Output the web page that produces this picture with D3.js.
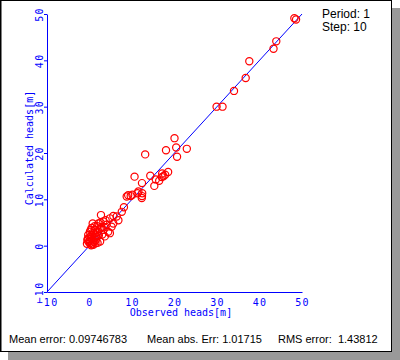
<!DOCTYPE html>
<html><head><meta charset="utf-8">
<script src="https://cdn.jsdelivr.net/npm/d3@7"></script>
<style>body{margin:0;background:#fff;} svg{display:block;}</style>
</head><body>
<svg id="c" width="400" height="360"></svg>
<script>
const observed = [48.2,48.6,43.95,43.3,37.6,36.75,34.0,29.9,31.3,
  20.0,13.1,18.0,20.4,22.9,20.6,
  10.6,12.35,14.3,15.6,15.25,17.1,18.5,17.4,16.4,17.8,17.0,
  11.5,12.4,12.35,12.3,9.1,8.75,9.7,10.1,11.3,
  8.1,7.6,
  2.7,5.6,6.4,4.8,6.8,3.25,0.75,2.1,4.0,5.2,3.25,1.3,0.1,4.4,-0.3,1.7,-0.5,0.1,-0.6,0.9,2.5,4.8,5.6,
  0.5,1.0,0.3,1.5,2.0,2.8,1.8,0.5,3.5,2.2,1.0,0.4,3.0,
  0.2,0.6,1.2,0.8,1.5,2.4,1.2,2.6,3.8,0.0,-0.2,1.9,3.6,-0.4,0.3,1.4];
const calculated = [49.1,48.8,44.1,42.5,39.8,36.2,33.4,30.0,30.0,
  23.2,19.7,20.6,21.2,20.9,19.2,
  14.9,13.5,15.1,14.3,12.9,15.6,15.9,15.0,14.0,15.3,14.8,
  11.7,11.3,10.7,10.3,10.9,10.6,10.7,11.0,11.3,
  8.3,7.3,
  6.6,6.4,6.3,5.9,5.5,5.2,4.8,4.8,4.5,4.1,3.4,3.4,3.0,3.0,2.3,1.9,1.2,0.5,0.4,0.2,0.9,2.7,4.8,
  1.5,2.5,2.0,1.2,3.0,4.0,4.2,3.8,4.0,2.2,0.8,0.1,2.4,
  1.0,0.3,1.6,2.8,2.2,3.6,4.2,5.0,5.5,1.8,0.8,0.6,2.0,1.5,3.4,0.5];
const ticks = [-10,0,10,20,30,40,50];
const xTitle = "Observed heads[m]";
const yTitle = "Calculated heads[m]";
const legendLines = ["Period: 1","Step: 10"];
const stats = [["Mean error: 0.09746783",9],["Mean abs. Err: 1.01715",147],["RMS error:  1.43812",278]];

const svg = d3.select("#c");
// shadow + frame
svg.append("rect").attr("x",8).attr("y",8).attr("width",392).attr("height",352).attr("fill","#999");
svg.append("rect").attr("x",0.5).attr("y",0.5).attr("width",391).attr("height",351)
  .attr("fill","#fff").attr("stroke","#000").attr("stroke-width",1);
svg.append("line").attr("x1",1).attr("x2",1).attr("y1",0).attr("y2",352).attr("stroke","#000");

const x = d3.scaleLinear().domain([-10,50]).range([47,302]);
const y = d3.scaleLinear().domain([-10,50]).range([292,14]);
const blue = "#0000ff";
const mono = "'DejaVu Sans Mono', monospace";

// x axis
const gx = svg.append("g").attr("transform","translate(0,292)")
  .call(d3.axisBottom(x).tickValues(ticks).tickSize(0).tickSizeOuter(0).tickFormat(d3.format("d")));
gx.select(".domain").attr("stroke",blue);
gx.selectAll("text").attr("fill",blue).attr("font-family",mono).attr("font-size",10)
  .attr("letter-spacing","1.3px").attr("y",7);

// y axis
const gy = svg.append("g").attr("transform","translate(47,0)")
  .call(d3.axisLeft(y).tickValues(ticks).tickSize(3).tickSizeOuter(0).tickFormat(d3.format("d")));
gy.select(".domain").attr("stroke",blue);
gy.selectAll(".tick line").attr("stroke",blue);
gy.selectAll("text").attr("fill",blue).attr("font-family",mono).attr("font-size",10)
  .attr("letter-spacing","1.3px")
  .attr("transform","rotate(-90)").attr("x",0).attr("y",-4).attr("dy",0).attr("text-anchor","middle");

// titles
svg.append("text").attr("x",181).attr("y",316).attr("text-anchor","middle")
  .attr("fill",blue).attr("font-family",mono).attr("font-size",10).text(xTitle);
svg.append("text").attr("transform","translate(33,148) rotate(-90)").attr("text-anchor","middle")
  .attr("fill",blue).attr("font-family",mono).attr("font-size",10).text(yTitle);

// diagonal
svg.append("line").attr("x1",x(-10)).attr("y1",y(-10)).attr("x2",x(50)).attr("y2",y(50))
  .attr("stroke",blue).attr("stroke-width",1);

// points
svg.append("g").selectAll("circle").data(observed.map((o,i)=>[o,calculated[i]])).join("circle")
  .attr("cx",d=>x(d[0])).attr("cy",d=>y(d[1])).attr("r",3.6)
  .attr("fill","none").attr("stroke","#ff0000").attr("stroke-width",1.2);

// legend
svg.append("g").selectAll("text").data(legendLines).join("text")
  .attr("x",322).attr("y",(d,i)=>18+i*13).attr("font-family","'Liberation Sans', Arial, sans-serif")
  .attr("font-size",12).attr("fill","#000").text(d=>d);

// stats
svg.append("g").selectAll("text").data(stats).join("text")
  .attr("x",d=>d[1]).attr("y",343).attr("font-family","'Liberation Sans', Arial, sans-serif")
  .attr("font-size",11).attr("fill","#000").attr("xml:space","preserve").style("white-space","pre").text(d=>d[0]);
</script>
</body></html>
